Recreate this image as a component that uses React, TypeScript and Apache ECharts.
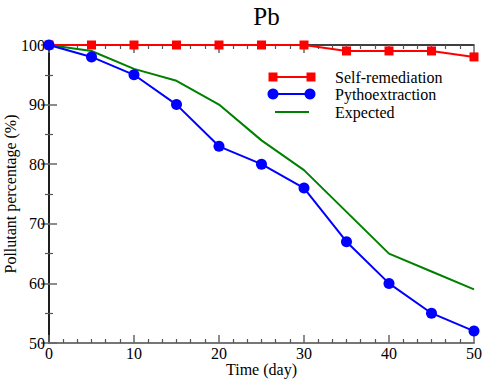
import React, { useEffect, useRef } from "react";
import * as echarts from "echarts";

const days = [0, 5, 10, 15, 20, 25, 30, 35, 40, 45, 50];
const selfRemediation = [100, 100, 100, 100, 100, 100, 100, 99, 99, 99, 98];
const pythoextraction = [100, 98, 95, 90, 83, 80, 76, 67, 60, 55, 52];
const expected = [100, 99, 96, 94, 90, 84, 79, 72, 65, 62, 59];
const legendNames = ["Self-remediation", "Pythoextraction", "Expected"];

const FONT = "'Liberation Serif', 'Times New Roman', serif";

export default function App() {
  const ref = useRef<HTMLDivElement>(null);
  useEffect(() => {
    if (!ref.current) return;
    const chart = echarts.init(ref.current, null, { renderer: "svg" });
    const pair = (ys: number[]) => days.map((d, i) => [d, ys[i]]);
    const grayLine = { show: true, lineStyle: { color: "#777", width: 2 } };
    const blackLine = { show: true, lineStyle: { color: "#000", width: 1.5 } };
    const tick = { show: true, inside: true, length: 8, lineStyle: { color: "#666", width: 1.5 } };
    const minorX = { show: true, splitNumber: 6, length: 4, lineStyle: { color: "#555", width: 1.2 } };
    const minorY = { show: true, splitNumber: 2, length: 4, lineStyle: { color: "#555", width: 1.2 } };
    const labelStyle = { fontFamily: FONT, fontSize: 16, color: "#000" };
    const legendText = { fontFamily: FONT, fontSize: 16, lineHeight: 16, fill: "#000", verticalAlign: "middle" };
    chart.setOption({
      animation: false,
      backgroundColor: "#fff",
      title: {
        text: "Pb",
        left: 261.5,
        textAlign: "center",
        top: -1,
        textStyle: { fontFamily: FONT, fontSize: 25, fontWeight: "normal", color: "#000" },
      },
      grid: { left: 49, right: 10, top: 45, bottom: 36, outerBoundsMode: "none", containLabel: false },
      xAxis: [
        {
          type: "value", min: 0, max: 50, interval: 10,
          name: "Time (day)", nameLocation: "middle", nameGap: 18, nameMoveOverlap: false,
          nameTextStyle: { fontFamily: FONT, fontSize: 16, color: "#000" },
          axisLine: grayLine, axisTick: tick, minorTick: minorX, splitLine: { show: false },
          axisLabel: { ...labelStyle, margin: 2 },
        },
        {
          type: "value", min: 0, max: 50, interval: 10, position: "top",
          axisLine: blackLine, axisTick: tick, minorTick: minorX, splitLine: { show: false },
          axisLabel: { show: false },
        },
      ],
      yAxis: [
        {
          type: "value", min: 50, max: 100, interval: 10,
          name: "Pollutant percentage (%)", nameLocation: "middle", nameGap: 31, nameMoveOverlap: false,
          nameTextStyle: { fontFamily: FONT, fontSize: 16, color: "#000" },
          axisLine: grayLine, axisTick: tick, minorTick: minorY, splitLine: { show: false },
          axisLabel: { ...labelStyle, margin: 4 },
        },
        {
          type: "value", min: 50, max: 100, interval: 10, position: "right",
          axisLine: blackLine, axisTick: tick, minorTick: minorY, splitLine: { show: false },
          axisLabel: { show: false },
        },
      ],
      series: [
        {
          name: legendNames[0], type: "line", data: pair(selfRemediation),
          symbol: "rect", symbolSize: 9, itemStyle: { color: "#ff0000" },
          lineStyle: { color: "#ff0000", width: 2 }, z: 3,
        },
        {
          name: legendNames[1], type: "line", data: pair(pythoextraction),
          symbol: "circle", symbolSize: 11, itemStyle: { color: "#0000ff" },
          lineStyle: { color: "#0000ff", width: 2 }, z: 4,
        },
        {
          name: legendNames[2], type: "line", data: pair(expected),
          symbol: "none", lineStyle: { color: "#008000", width: 2 }, z: 2,
        },
      ],
      graphic: [
        { type: "line", shape: { x1: 273, y1: 77, x2: 311, y2: 77 }, style: { stroke: "#ff0000", lineWidth: 2 } },
        { type: "rect", shape: { x: 268.5, y: 72.5, width: 9, height: 9 }, style: { fill: "#ff0000" } },
        { type: "rect", shape: { x: 306.5, y: 72.5, width: 9, height: 9 }, style: { fill: "#ff0000" } },
        { type: "text", x: 335, y: 77, style: { ...legendText, text: legendNames[0] } },
        { type: "line", shape: { x1: 273, y1: 94, x2: 311, y2: 94 }, style: { stroke: "#0000ff", lineWidth: 2 } },
        { type: "circle", shape: { cx: 273, cy: 94, r: 5.5 }, style: { fill: "#0000ff" } },
        { type: "circle", shape: { cx: 310, cy: 94, r: 5.5 }, style: { fill: "#0000ff" } },
        { type: "text", x: 335, y: 94, style: { ...legendText, text: legendNames[1] } },
        { type: "line", shape: { x1: 275, y1: 112, x2: 309, y2: 112 }, style: { stroke: "#008000", lineWidth: 2 } },
        { type: "text", x: 335, y: 112, style: { ...legendText, text: legendNames[2] } },
      ],
    });
    return () => chart.dispose();
  }, []);
  return <div ref={ref} style={{ width: 484, height: 379, position: "absolute", left: 0, top: 0 }} />;
}
